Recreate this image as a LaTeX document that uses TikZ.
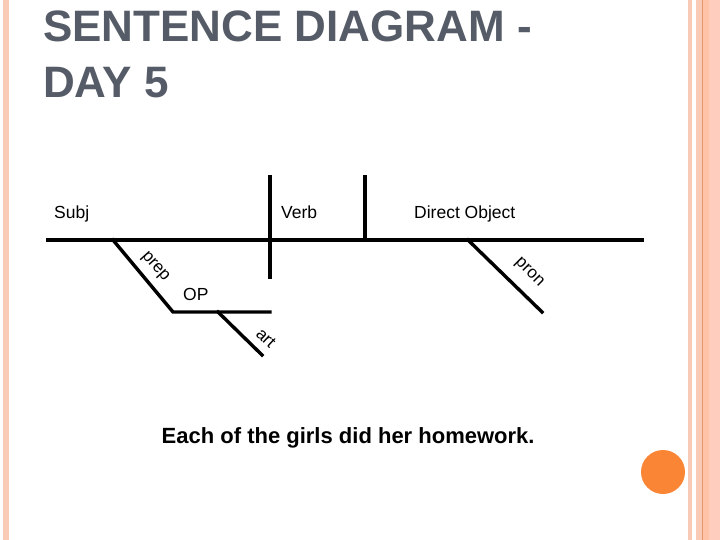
\documentclass[tikz,border=0pt]{standalone}
\usepackage{fontspec}
\setmainfont{Liberation Sans}
\usepackage{tikz}
\usetikzlibrary{positioning,calc}
\definecolor{titlegray}{RGB}{86,92,103}
\definecolor{stripesalmon}{RGB}{249,202,182}
\definecolor{stripepeach}{RGB}{255,196,168}
\definecolor{stripepink}{RGB}{255,205,190}
\definecolor{stripeline}{RGB}{228,150,108}
\definecolor{dotorange}{RGB}{250,133,52}

\tikzset{
    diagline/.style={line width=3.4bp, line cap=rect},
    lbl/.style={inner sep=0pt, anchor=base west, font=\fontsize{17.5bp}{20bp}\selectfont},
    slantlbl/.style={inner sep=0pt, font=\fontsize{17bp}{20bp}\selectfont},
    titletext/.style={inner sep=0pt, anchor=base west, text=titlegray,
                      font=\fontsize{44bp}{56bp}\selectfont\bfseries}
}

\begin{document}
\begin{tikzpicture}[x=1bp, y=-1bp]
    \useasboundingbox (0,0) rectangle (720,540);
    \fill[white] (0,0) rectangle (720,540);

    \fill[stripesalmon] (3,0) rectangle (9,540);
    \fill[stripesalmon] (688,0) rectangle (692,540);
    \fill[stripesalmon] (696,0) rectangle (702,540);
    \fill[stripepeach] (702,0) rectangle (709,540);
    \fill[stripepink] (709,0) rectangle (720,540);
    \draw[stripeline, line width=1bp] (702.5,0) -- (702.5,540);

    \node[titletext] (title) at (43,42) {SENTENCE DIAGRAM -};
    \node[titletext] (titleday) at (43,98) {DAY 5};

    \coordinate (baseL) at (48,240);
    \coordinate (baseR) at (642,240);
    \coordinate (verbT) at (270,177);
    \coordinate (verbB) at (270,277);
    \coordinate (objT) at (365,177);
    \coordinate (objB) at (365,240);
    \coordinate (prepT) at (113,240);
    \coordinate (prepB) at (173,312);
    \coordinate (opR) at (270,312);
    \coordinate (artT) at (218,312);
    \coordinate (artB) at (262,355);
    \coordinate (pronT) at (468,240);
    \coordinate (pronB) at (542,312);

    \draw[diagline] (baseL) -- (baseR);
    \draw[diagline] (verbT) -- (verbB);
    \draw[diagline] (objT) -- (objB);
    \draw[diagline] (prepT) -- (prepB) -- (opR);
    \draw[diagline] (artT) -- (artB);
    \draw[diagline] (pronT) -- (pronB);

    \node[lbl] (subj) at (54,219) {Subj};
    \node[lbl] (verb) at (281,219) {Verb};
    \node[lbl] (dobj) at (414,219) {Direct Object};
    \node[lbl] (op) at (183,300) {OP};

    \node[slantlbl, rotate=-48] (prep) at (155,267) {prep};
    \node[slantlbl, rotate=-43] (art) at (266,338) {art};
    \node[slantlbl, rotate=-45] (pron) at (529,273) {pron};

    \node[inner sep=0pt, anchor=base west, font=\fontsize{22bp}{24bp}\selectfont\bfseries]
        (sentence) at (161.5,443) {Each of the girls did her homework.};

    \fill[dotorange] (663,472) circle (22);
\end{tikzpicture}
\end{document}
